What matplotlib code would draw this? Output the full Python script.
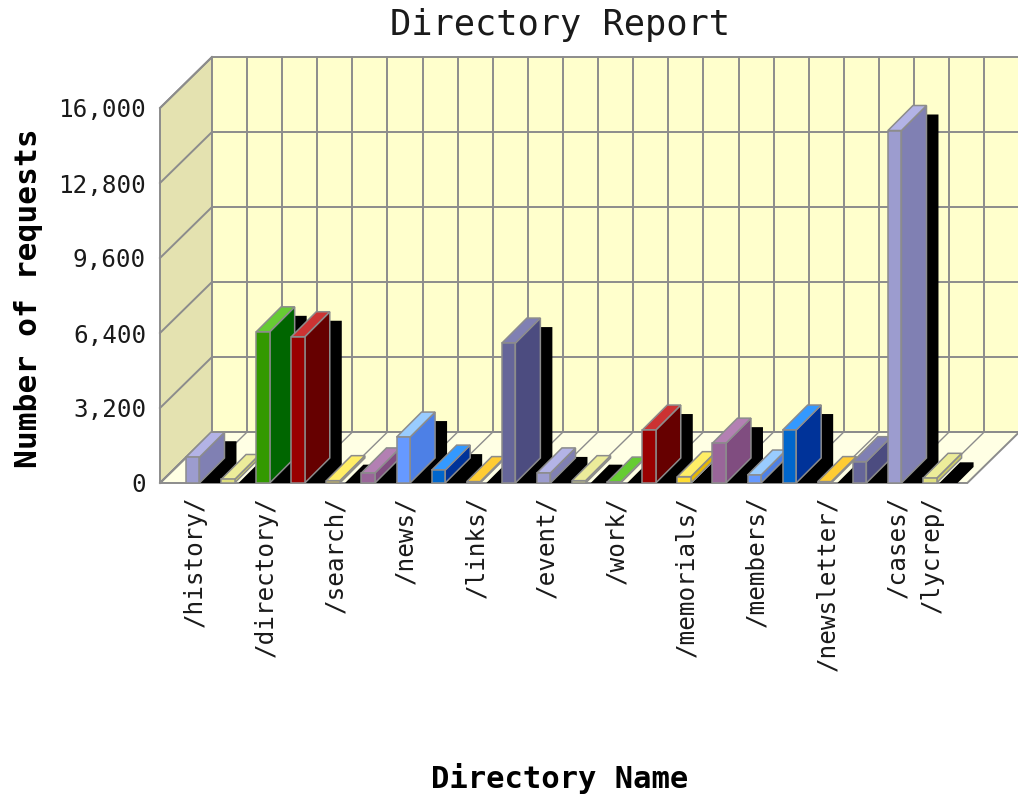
import matplotlib
matplotlib.use("Agg")
import matplotlib.pyplot as plt
from matplotlib.patches import Polygon, Rectangle

# ---------------- data ----------------
categories = ["/history/", "", "/directory/", "", "/search/", "", "/news/", "",
              "/links/", "", "/event/", "", "/work/", "", "/memorials/", "",
              "/members/", "", "/newsletter/", "", "/cases/", "/lycrep/"]
values = [1100, 150, 6450, 6240, 100, 430, 1960, 550, 60, 5970, 430,
          100, 40, 2260, 270, 1700, 340, 2260, 60, 910, 15040, 200]
yticks = [0, 3200, 6400, 9600, 12800, 16000]
title = "Directory Report"
xlabel = "Directory Name"
ylabel = "Number of requests"

# palette: (front, side, top)
palette = [
    ("#9C9CCF", "#8080B3", "#B3B3E6"),  # lavender
    ("#E0E080", "#CCCC66", "#ECEC9A"),  # khaki
    ("#339900", "#006600", "#66CC33"),  # green
    ("#990000", "#660000", "#CC3333"),  # red
    ("#FFDD33", "#E6B800", "#FFEE66"),  # yellow
    ("#996699", "#804D80", "#B380B3"),  # mauve
    ("#6699FF", "#4D80E6", "#99CCFF"),  # light blue
    ("#0066CC", "#003399", "#3399FF"),  # blue
    ("#FFAA00", "#E69900", "#FFCC33"),  # orange
    ("#666699", "#4C4C80", "#8080B3"),  # slate
]

# ---------------- geometry ----------------
W, H = 1018, 794
PX_X = 35.1            # pixels per category
PX_Y = 75.0 / 3200.0   # pixels per request
X0_PX, Y0_PX = 160.0, 483.0
xlim = (-1.12, -1 + (W - X0_PX) / PX_X)
ylim = (-250, 18176 + 150)

DX, DY = 52 / PX_X, 51 / PX_Y          # floor depth
bdx, bdy = 25 / PX_X, 25 / PX_Y        # bar depth
sx, sy = 12 / PX_X, -9 / PX_Y          # shadow offset
bw = 13.5 / PX_X                       # bar front width
boff = -0.26                           # bar front-left offset from category

fig = plt.figure(figsize=(W / 100, H / 100), dpi=100)
left_px = X0_PX + (xlim[0] + 1) * PX_X
bot_px = Y0_PX - ylim[0] * PX_Y
top_px = Y0_PX - ylim[1] * PX_Y
ax = fig.add_axes([left_px / W, 1 - bot_px / H, (W - left_px) / W, (bot_px - top_px) / H])
ax.set_xlim(*xlim)
ax.set_ylim(*ylim)
for s in ax.spines.values():
    s.set_visible(False)
ax.patch.set_visible(False)

grid_c = "#8C8C8C"
glw = 1.4
n = len(values)
ymax = yticks[-1]
xr = xlim[1] + 1

# walls and floor
ax.add_patch(Polygon([(-1, 0), (-1 + DX, DY), (-1 + DX, ymax + DY), (-1, ymax)],
                     closed=True, fc="#E4E2B0", ec=grid_c, lw=glw, zorder=1))
ax.add_patch(Polygon([(-1 + DX, DY), (xr, DY), (xr, ymax + DY), (-1 + DX, ymax + DY)],
                     closed=True, fc="#FFFFCC", ec="none", zorder=1))
ax.add_patch(Polygon([(-1, 0), (-1 + DX, DY), (n + DX, DY), (n, 0)],
                     closed=True, fc="#FFFFE4", ec=grid_c, lw=glw, zorder=1))
# grid
for v in yticks:
    ax.plot([-1, -1 + DX], [v, v + DY], color=grid_c, lw=glw, zorder=2)
    ax.plot([-1 + DX, xr], [v + DY, v + DY], color=grid_c, lw=glw, zorder=2)
k = 0
while -1 + DX + k <= xr:
    ax.plot([-1 + DX + k, -1 + DX + k], [DY, ymax + DY], color=grid_c, lw=glw, zorder=2)
    if k <= n:
        ax.plot([-1 + k, -1 + DX + k], [0, DY], color=grid_c, lw=1.0, zorder=2)
    k += 1

clip = Rectangle((xlim[0], 0), xr - xlim[0], ylim[1] + 1000, transform=ax.transData)

# bars
for i, v in enumerate(values):
    fc, sc, tc = palette[i % len(palette)]
    x0 = i + boff
    x1 = x0 + bw
    sil = [(x0, 0), (x1, 0), (x1 + bdx, bdy), (x1 + bdx, v + bdy), (x0 + bdx, v + bdy), (x0, v)]
    sh = Polygon([(px + sx, py + sy) for px, py in sil], closed=True, fc="black",
                 ec="none", zorder=3 + 2 * i)
    ax.add_patch(sh)
    sh.set_clip_path(clip)
    z = 4 + 2 * i
    ax.add_patch(Polygon([(x1, 0), (x1 + bdx, bdy), (x1 + bdx, v + bdy), (x1, v)],
                         closed=True, fc=sc, ec=grid_c, lw=1.1, zorder=z))
    ax.add_patch(Polygon([(x0, v), (x1, v), (x1 + bdx, v + bdy), (x0 + bdx, v + bdy)],
                         closed=True, fc=tc, ec=grid_c, lw=1.1, zorder=z))
    ax.add_patch(Polygon([(x0, 0), (x1, 0), (x1, v), (x0, v)],
                         closed=True, fc=fc, ec=grid_c, lw=1.1, zorder=z))

# ticks
mono = "DejaVu Sans Mono"
ax.set_yticks(yticks)
ax.set_yticklabels([f"{t:,}" for t in yticks], fontfamily=mono, fontsize=17.5, color="#1a1a1a")
ax.tick_params(axis="y", length=0, pad=7)
tick_idx = [i for i, c in enumerate(categories) if c]
ax.set_xticks(tick_idx)
ax.set_xticklabels([categories[i] for i in tick_idx], rotation=90, fontfamily=mono,
                   fontsize=17.5, color="#1a1a1a", va="top", ha="center")
ax.tick_params(axis="x", length=0, pad=5)

fig.text(560 / W, 1 - 25 / H, title, ha="center", va="center", fontfamily=mono,
         fontsize=25.5, color="#1a1a1a")
fig.text(560 / W, 1 - 778 / H, xlabel, ha="center", va="center", fontfamily=mono,
         fontsize=22, fontweight="bold", color="black")
fig.text(29 / W, 1 - 298 / H, ylabel, ha="center", va="center", rotation=90,
         fontfamily=mono, fontsize=22.5, fontweight="bold", color="black")

fig.savefig("out.png", dpi=100)
